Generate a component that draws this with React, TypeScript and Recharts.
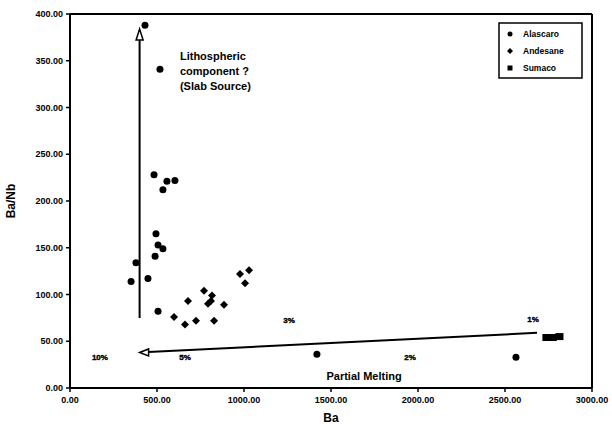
import React from 'react';
import { ScatterChart, Scatter, XAxis, YAxis, ReferenceLine, Legend } from 'recharts';

// Alascaro (circles)
const alascaroBa = [431, 517, 483, 557, 603, 534, 494, 506, 534, 489, 379, 351, 448, 506, 1419, 2563];
const alascaroBaNb = [388, 341, 228, 221, 222, 212, 165, 153, 149, 141, 134, 114, 117, 82, 36, 33];
// Andesane (diamonds)
const andesaneBa = [598, 661, 678, 724, 770, 816, 810, 793, 885, 828, 977, 1029, 1006];
const andesaneBaNb = [76, 68, 93, 72, 104, 99, 93, 90, 89, 72, 122, 126, 112];
// Sumaco (squares)
const sumacoBa = [2738, 2775, 2813];
const sumacoBaNb = [54, 54, 55];

// Partial melting percentage labels
const meltLabels = ['10%', '5%', '3%', '2%', '1%'];
const meltBa = [172, 661, 1259, 1954, 2661];
const meltBaNb = [33, 33, 72, 33, 73];

// Annotation text
const noteLines = ['Lithospheric', 'component  ?', '(Slab Source)', 'Partial Melting'];
const noteBa = [632, 632, 632, 1690];
const noteBaNb = [355, 339, 323, 13];

// Arrows
const upArrowBa = [400, 400];
const upArrowBaNb = [75, 384];
const meltArrowBa = [2684, 400];
const meltArrowBaNb = [59, 38];

const xTicks = [0, 500, 1000, 1500, 2000, 2500, 3000];
const yTicks = [0, 50, 100, 150, 200, 250, 300, 350, 400];

const seriesNames = ['Alascaro', 'Andesane', 'Sumaco'];

const FONT = '"Liberation Sans", Arial, sans-serif';

const toPts = (xs: number[], ys: number[]) => xs.map((x, i) => ({ x, y: ys[i] }));
const alascaro = toPts(alascaroBa, alascaroBaNb);
const andesane = toPts(andesaneBa, andesaneBaNb);
const sumaco = toPts(sumacoBa, sumacoBaNb);
const melt = meltBa.map((x, i) => ({ x, y: meltBaNb[i], label: meltLabels[i] }));
const notes = noteBa.map((x, i) => ({ x, y: noteBaNb[i], label: noteLines[i], anchor: i === 3 ? 'middle' : 'start' }));
const upHead = [{ x: upArrowBa[1], y: upArrowBaNb[1] }];
const leftHead = [{ x: meltArrowBa[1], y: meltArrowBaNb[1] }];

const Circle = (p: any) => <circle cx={p.cx} cy={p.cy} r={3.5} fill="#000" />;
const Diamond = (p: any) => (
  <polygon points={`${p.cx},${p.cy - 4} ${p.cx + 4},${p.cy} ${p.cx},${p.cy + 4} ${p.cx - 4},${p.cy}`} fill="#000" />
);
const Square = (p: any) => <rect x={p.cx - 4} y={p.cy - 3.5} width={8} height={7} fill="#000" />;
const MeltText = (p: any) => (
  <text x={p.cx} y={p.cy} textAnchor="middle" dominantBaseline="central" fontFamily={FONT} fontWeight="900" fontSize={8} fill="#000" stroke="#000" strokeWidth={0.4}>
    {p.payload.label}
  </text>
);
const NoteText = (p: any) => (
  <text x={p.cx} y={p.cy} textAnchor={p.payload.anchor} dominantBaseline="central" fontFamily={FONT} fontWeight="bold" fontSize={11} fill="#000">
    {p.payload.label}
  </text>
);
const UpHead = (p: any) => (
  <polygon points={`${p.cx},${p.cy} ${p.cx + 3.5},${p.cy + 11} ${p.cx - 3.5},${p.cy + 11}`} fill="#fff" stroke="#000" strokeWidth={1.5} />
);
const LeftHead = (p: any) => (
  <polygon points={`${p.cx},${p.cy} ${p.cx + 9},${p.cy - 3.5} ${p.cx + 9},${p.cy + 3.5}`} fill="#fff" stroke="#000" strokeWidth={1.5} />
);

const LegendBox = () => {
  const marks = [
    <circle cx={12} cy={0} r={2.5} fill="#000" />,
    <polygon points="12,-3 15,0 12,3 9,0" fill="#000" />,
    <rect x={9.5} y={-2.5} width={5} height={5} fill="#000" />,
  ];
  return (
    <svg width={86} height={58} style={{ display: 'block' }}>
      <rect x={1} y={1} width={83} height={55} fill="#fff" stroke="#000" strokeWidth={1.5} />
      {seriesNames.map((n, i) => (
        <g key={n} transform={`translate(0, ${12 + i * 17})`}>
          {marks[i]}
          <text x={25} y={0} dominantBaseline="central" fontFamily={FONT} fontWeight="bold" fontSize={8.5} fill="#000">
            {n}
          </text>
        </g>
      ))}
    </svg>
  );
};

const tickStyle = { fontSize: 9, fontWeight: 'bold', fill: '#000', fontFamily: FONT } as any;

export default function App() {
  return (
    <div style={{ position: 'absolute', left: 0, top: 0, background: '#fff' }}>
      <ScatterChart width={612} height={424} margin={{ top: 14, right: 20, bottom: 0, left: 0 }}>
        <XAxis
          type="number"
          dataKey="x"
          domain={[0, 3000]}
          ticks={xTicks}
          tickFormatter={(v: number) => v.toFixed(2)}
          axisLine={{ stroke: '#000', strokeWidth: 2 }}
          tickLine={{ stroke: '#000', strokeWidth: 1.5 }}
          tickSize={4}
          tickMargin={5}
          tick={tickStyle}
          height={36}
          allowDataOverflow
          label={{ value: 'Ba', position: 'insideBottom', offset: 2, fontFamily: FONT, fontWeight: 'bold', fontSize: 12, fill: '#000' }}
        />
        <YAxis
          type="number"
          dataKey="y"
          domain={[0, 400]}
          ticks={yTicks}
          tickFormatter={(v: number) => v.toFixed(2)}
          axisLine={{ stroke: '#000', strokeWidth: 2 }}
          tickLine={{ stroke: '#000', strokeWidth: 1.5 }}
          tickSize={4}
          tickMargin={3}
          tick={tickStyle}
          width={70}
          allowDataOverflow
          label={{ value: 'Ba/Nb', angle: -90, position: 'insideLeft', offset: 11, fontFamily: FONT, fontWeight: 'bold', fontSize: 12, fill: '#000', style: { textAnchor: 'middle' } }}
        />
        <ReferenceLine y={400} stroke="#000" strokeWidth={2} />
        <ReferenceLine x={3000} stroke="#000" strokeWidth={2} />
        <ReferenceLine
          segment={[{ x: upArrowBa[0], y: upArrowBaNb[0] }, { x: upArrowBa[1], y: upArrowBaNb[1] - 12 }]}
          stroke="#000"
          strokeWidth={2}
        />
        <ReferenceLine
          segment={[{ x: meltArrowBa[0], y: meltArrowBaNb[0] }, { x: meltArrowBa[1] + 50, y: meltArrowBaNb[1] + 0.4 }]}
          stroke="#000"
          strokeWidth={2}
        />
        <Legend
          layout="horizontal"
          verticalAlign="middle"
          align="center"
          content={() => <LegendBox />}
          wrapperStyle={{ position: 'absolute', left: 498, top: 22, width: 86, height: 58 }}
        />
        <Scatter name="Alascaro" data={alascaro} shape={Circle} isAnimationActive={false} />
        <Scatter name="Andesane" data={andesane} shape={Diamond} isAnimationActive={false} />
        <Scatter name="Sumaco" data={sumaco} shape={Square} isAnimationActive={false} />
        <Scatter name="melt" data={melt} shape={MeltText} isAnimationActive={false} legendType="none" />
        <Scatter name="notes" data={notes} shape={NoteText} isAnimationActive={false} legendType="none" />
        <Scatter name="uphead" data={upHead} shape={UpHead} isAnimationActive={false} legendType="none" />
        <Scatter name="lefthead" data={leftHead} shape={LeftHead} isAnimationActive={false} legendType="none" />
      </ScatterChart>
    </div>
  );
}
